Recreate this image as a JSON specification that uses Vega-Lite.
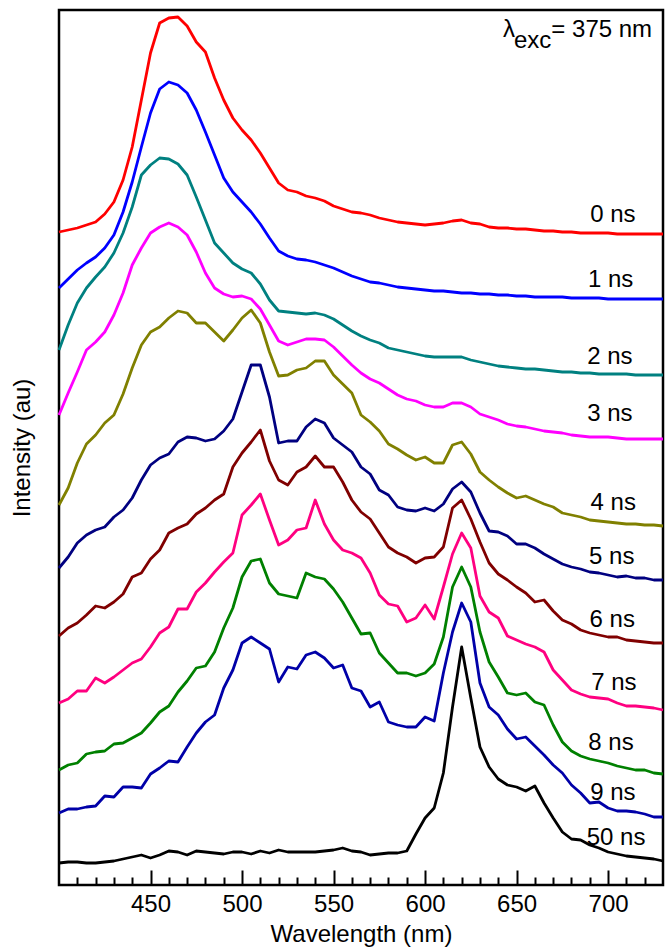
{
  "$schema": "https://vega.github.io/schema/vega-lite/v6.json",
  "width": 604,
  "height": 875,
  "autosize": {"type": "none"},
  "padding": {"left": 59, "top": 10, "right": 9, "bottom": 63},
  "background": "white",
  "config": {
    "font": "Liberation Sans",
    "view": {"stroke": "black", "strokeWidth": 2.5},
    "axis": {"grid": false, "labelColor": "black", "titleColor": "black", "tickColor": "black", "labelFont": "Liberation Sans", "titleFont": "Liberation Sans", "titleFontWeight": "normal"}
  },
  "datasets": {
    "spectra": [
      {"nm":400,"0 ns":653,"1 ns":597,"2 ns":535,"3 ns":470,"4 ns":380,"5 ns":317,"6 ns":249,"7 ns":182,"8 ns":115,"9 ns":72,"50 ns":22},
      {"nm":405,"0 ns":655,"1 ns":606,"2 ns":560,"3 ns":492,"4 ns":397,"5 ns":328,"6 ns":257,"7 ns":186,"8 ns":120,"9 ns":76,"50 ns":23},
      {"nm":410,"0 ns":657,"1 ns":615,"2 ns":582,"3 ns":513,"4 ns":422,"5 ns":342,"6 ns":262,"7 ns":194,"8 ns":122,"9 ns":76,"50 ns":23},
      {"nm":415,"0 ns":660,"1 ns":622,"2 ns":597,"3 ns":535,"4 ns":441,"5 ns":350,"6 ns":270,"7 ns":194,"8 ns":131,"9 ns":78,"50 ns":22},
      {"nm":420,"0 ns":663,"1 ns":628,"2 ns":608,"3 ns":543,"4 ns":450,"5 ns":355,"6 ns":279,"7 ns":207,"8 ns":133,"9 ns":79,"50 ns":22},
      {"nm":425,"0 ns":671,"1 ns":637,"2 ns":618,"3 ns":553,"4 ns":462,"5 ns":358,"6 ns":277,"7 ns":202,"8 ns":134,"9 ns":89,"50 ns":23},
      {"nm":430,"0 ns":683,"1 ns":650,"2 ns":632,"3 ns":570,"4 ns":470,"5 ns":368,"6 ns":283,"7 ns":208,"8 ns":141,"9 ns":88,"50 ns":24},
      {"nm":435,"0 ns":705,"1 ns":673,"2 ns":652,"3 ns":592,"4 ns":491,"5 ns":375,"6 ns":291,"7 ns":215,"8 ns":142,"9 ns":98,"50 ns":26},
      {"nm":440,"0 ns":738,"1 ns":703,"2 ns":678,"3 ns":620,"4 ns":517,"5 ns":387,"6 ns":308,"7 ns":222,"8 ns":147,"9 ns":98,"50 ns":28},
      {"nm":445,"0 ns":785,"1 ns":738,"2 ns":710,"3 ns":637,"4 ns":540,"5 ns":405,"6 ns":312,"7 ns":226,"8 ns":152,"9 ns":97,"50 ns":30},
      {"nm":450,"0 ns":832,"1 ns":772,"2 ns":720,"3 ns":652,"4 ns":553,"5 ns":420,"6 ns":326,"7 ns":238,"8 ns":162,"9 ns":111,"50 ns":27},
      {"nm":455,"0 ns":862,"1 ns":796,"2 ns":727,"3 ns":658,"4 ns":558,"5 ns":427,"6 ns":335,"7 ns":252,"8 ns":173,"9 ns":117,"50 ns":30},
      {"nm":460,"0 ns":867,"1 ns":803,"2 ns":726,"3 ns":662,"4 ns":567,"5 ns":431,"6 ns":352,"7 ns":258,"8 ns":179,"9 ns":124,"50 ns":34},
      {"nm":465,"0 ns":868,"1 ns":800,"2 ns":721,"3 ns":658,"4 ns":574,"5 ns":443,"6 ns":357,"7 ns":276,"8 ns":193,"9 ns":123,"50 ns":33},
      {"nm":470,"0 ns":859,"1 ns":792,"2 ns":710,"3 ns":650,"4 ns":572,"5 ns":448,"6 ns":361,"7 ns":276,"8 ns":204,"9 ns":138,"50 ns":30},
      {"nm":475,"0 ns":843,"1 ns":775,"2 ns":688,"3 ns":633,"4 ns":562,"5 ns":447,"6 ns":371,"7 ns":293,"8 ns":217,"9 ns":152,"50 ns":34},
      {"nm":480,"0 ns":833,"1 ns":753,"2 ns":665,"3 ns":612,"4 ns":562,"5 ns":444,"6 ns":377,"7 ns":302,"8 ns":219,"9 ns":163,"50 ns":33},
      {"nm":485,"0 ns":807,"1 ns":730,"2 ns":642,"3 ns":597,"4 ns":553,"5 ns":446,"6 ns":385,"7 ns":313,"8 ns":233,"9 ns":170,"50 ns":32},
      {"nm":490,"0 ns":785,"1 ns":707,"2 ns":632,"3 ns":591,"4 ns":544,"5 ns":454,"6 ns":391,"7 ns":323,"8 ns":257,"9 ns":197,"50 ns":31},
      {"nm":495,"0 ns":767,"1 ns":693,"2 ns":622,"3 ns":588,"4 ns":555,"5 ns":466,"6 ns":418,"7 ns":332,"8 ns":277,"9 ns":215,"50 ns":33},
      {"nm":500,"0 ns":755,"1 ns":683,"2 ns":616,"3 ns":589,"4 ns":567,"5 ns":493,"6 ns":432,"7 ns":370,"8 ns":308,"9 ns":242,"50 ns":33},
      {"nm":505,"0 ns":745,"1 ns":673,"2 ns":612,"3 ns":586,"4 ns":575,"5 ns":520,"6 ns":443,"7 ns":380,"8 ns":324,"9 ns":248,"50 ns":31},
      {"nm":510,"0 ns":732,"1 ns":661,"2 ns":601,"3 ns":576,"4 ns":562,"5 ns":520,"6 ns":455,"7 ns":391,"8 ns":326,"9 ns":242,"50 ns":34},
      {"nm":515,"0 ns":717,"1 ns":647,"2 ns":585,"3 ns":560,"4 ns":533,"5 ns":488,"6 ns":424,"7 ns":365,"8 ns":302,"9 ns":236,"50 ns":32},
      {"nm":520,"0 ns":702,"1 ns":634,"2 ns":574,"3 ns":544,"4 ns":509,"5 ns":442,"6 ns":405,"7 ns":340,"8 ns":291,"9 ns":203,"50 ns":35},
      {"nm":525,"0 ns":695,"1 ns":629,"2 ns":573,"3 ns":540,"4 ns":510,"5 ns":444,"6 ns":400,"7 ns":345,"8 ns":289,"9 ns":218,"50 ns":33},
      {"nm":530,"0 ns":693,"1 ns":626,"2 ns":572,"3 ns":543,"4 ns":515,"5 ns":444,"6 ns":413,"7 ns":355,"8 ns":287,"9 ns":216,"50 ns":33},
      {"nm":535,"0 ns":689,"1 ns":625,"2 ns":571,"3 ns":546,"4 ns":517,"5 ns":458,"6 ns":418,"7 ns":357,"8 ns":312,"9 ns":230,"50 ns":33},
      {"nm":540,"0 ns":687,"1 ns":623,"2 ns":572,"3 ns":546,"4 ns":524,"5 ns":466,"6 ns":429,"7 ns":385,"8 ns":308,"9 ns":233,"50 ns":33},
      {"nm":545,"0 ns":684,"1 ns":620,"2 ns":570,"3 ns":545,"4 ns":524,"5 ns":462,"6 ns":418,"7 ns":361,"8 ns":306,"9 ns":227,"50 ns":34},
      {"nm":550,"0 ns":679,"1 ns":617,"2 ns":566,"3 ns":538,"4 ns":510,"5 ns":447,"6 ns":418,"7 ns":345,"8 ns":296,"9 ns":217,"50 ns":35},
      {"nm":555,"0 ns":676,"1 ns":613,"2 ns":560,"3 ns":529,"4 ns":501,"5 ns":440,"6 ns":403,"7 ns":335,"8 ns":283,"9 ns":220,"50 ns":37},
      {"nm":560,"0 ns":673,"1 ns":609,"2 ns":554,"3 ns":520,"4 ns":492,"5 ns":433,"6 ns":385,"7 ns":332,"8 ns":267,"9 ns":197,"50 ns":34},
      {"nm":565,"0 ns":672,"1 ns":606,"2 ns":549,"3 ns":512,"4 ns":470,"5 ns":418,"6 ns":373,"7 ns":327,"8 ns":251,"9 ns":194,"50 ns":33},
      {"nm":570,"0 ns":670,"1 ns":603,"2 ns":545,"3 ns":506,"4 ns":463,"5 ns":411,"6 ns":366,"7 ns":312,"8 ns":252,"9 ns":178,"50 ns":30},
      {"nm":575,"0 ns":667,"1 ns":602,"2 ns":542,"3 ns":502,"4 ns":454,"5 ns":395,"6 ns":352,"7 ns":290,"8 ns":232,"9 ns":183,"50 ns":31},
      {"nm":580,"0 ns":665,"1 ns":600,"2 ns":537,"3 ns":496,"4 ns":441,"5 ns":390,"6 ns":338,"7 ns":281,"8 ns":222,"9 ns":163,"50 ns":32},
      {"nm":585,"0 ns":663,"1 ns":598,"2 ns":535,"3 ns":490,"4 ns":436,"5 ns":378,"6 ns":332,"7 ns":279,"8 ns":212,"9 ns":160,"50 ns":32},
      {"nm":590,"0 ns":662,"1 ns":597,"2 ns":533,"3 ns":486,"4 ns":430,"5 ns":375,"6 ns":328,"7 ns":263,"8 ns":212,"9 ns":158,"50 ns":34},
      {"nm":595,"0 ns":661,"1 ns":596,"2 ns":531,"3 ns":484,"4 ns":425,"5 ns":374,"6 ns":322,"7 ns":267,"8 ns":209,"9 ns":158,"50 ns":51},
      {"nm":600,"0 ns":660,"1 ns":595,"2 ns":529,"3 ns":480,"4 ns":428,"5 ns":377,"6 ns":327,"7 ns":280,"8 ns":212,"9 ns":168,"50 ns":67},
      {"nm":605,"0 ns":661,"1 ns":594,"2 ns":528,"3 ns":478,"4 ns":422,"5 ns":374,"6 ns":328,"7 ns":266,"8 ns":221,"9 ns":164,"50 ns":77},
      {"nm":610,"0 ns":662,"1 ns":594,"2 ns":528,"3 ns":478,"4 ns":422,"5 ns":381,"6 ns":338,"7 ns":298,"8 ns":248,"9 ns":212,"50 ns":112},
      {"nm":615,"0 ns":664,"1 ns":593,"2 ns":528,"3 ns":482,"4 ns":440,"5 ns":396,"6 ns":377,"7 ns":331,"8 ns":298,"9 ns":253,"50 ns":178},
      {"nm":620,"0 ns":665,"1 ns":592,"2 ns":528,"3 ns":482,"4 ns":443,"5 ns":403,"6 ns":385,"7 ns":352,"8 ns":318,"9 ns":282,"50 ns":238},
      {"nm":625,"0 ns":662,"1 ns":592,"2 ns":525,"3 ns":478,"4 ns":431,"5 ns":393,"6 ns":366,"7 ns":337,"8 ns":298,"9 ns":263,"50 ns":187},
      {"nm":630,"0 ns":661,"1 ns":591,"2 ns":523,"3 ns":471,"4 ns":413,"5 ns":372,"6 ns":343,"7 ns":289,"8 ns":253,"9 ns":202,"50 ns":138},
      {"nm":635,"0 ns":658,"1 ns":591,"2 ns":521,"3 ns":468,"4 ns":405,"5 ns":354,"6 ns":322,"7 ns":273,"8 ns":223,"9 ns":178,"50 ns":118},
      {"nm":640,"0 ns":657,"1 ns":590,"2 ns":519,"3 ns":465,"4 ns":398,"5 ns":353,"6 ns":311,"7 ns":267,"8 ns":208,"9 ns":170,"50 ns":106},
      {"nm":645,"0 ns":657,"1 ns":590,"2 ns":518,"3 ns":461,"4 ns":392,"5 ns":349,"6 ns":305,"7 ns":249,"8 ns":192,"9 ns":156,"50 ns":100},
      {"nm":650,"0 ns":656,"1 ns":589,"2 ns":517,"3 ns":459,"4 ns":387,"5 ns":341,"6 ns":298,"7 ns":245,"8 ns":190,"9 ns":146,"50 ns":98},
      {"nm":655,"0 ns":656,"1 ns":589,"2 ns":516,"3 ns":458,"4 ns":389,"5 ns":341,"6 ns":292,"7 ns":241,"8 ns":192,"9 ns":148,"50 ns":94},
      {"nm":660,"0 ns":655,"1 ns":588,"2 ns":516,"3 ns":456,"4 ns":385,"5 ns":337,"6 ns":283,"7 ns":238,"8 ns":183,"9 ns":139,"50 ns":99},
      {"nm":665,"0 ns":654,"1 ns":588,"2 ns":515,"3 ns":454,"4 ns":381,"5 ns":331,"6 ns":285,"7 ns":233,"8 ns":180,"9 ns":130,"50 ns":82},
      {"nm":670,"0 ns":654,"1 ns":588,"2 ns":514,"3 ns":453,"4 ns":378,"5 ns":326,"6 ns":274,"7 ns":215,"8 ns":160,"9 ns":120,"50 ns":67},
      {"nm":675,"0 ns":653,"1 ns":588,"2 ns":513,"3 ns":452,"4 ns":372,"5 ns":321,"6 ns":265,"7 ns":205,"8 ns":143,"9 ns":112,"50 ns":53},
      {"nm":680,"0 ns":653,"1 ns":587,"2 ns":513,"3 ns":450,"4 ns":370,"5 ns":318,"6 ns":261,"7 ns":195,"8 ns":134,"9 ns":100,"50 ns":46},
      {"nm":685,"0 ns":652,"1 ns":587,"2 ns":512,"3 ns":449,"4 ns":368,"5 ns":316,"6 ns":255,"7 ns":191,"8 ns":129,"9 ns":92,"50 ns":45},
      {"nm":690,"0 ns":652,"1 ns":587,"2 ns":512,"3 ns":448,"4 ns":365,"5 ns":313,"6 ns":252,"7 ns":188,"8 ns":126,"9 ns":82,"50 ns":40},
      {"nm":695,"0 ns":652,"1 ns":587,"2 ns":511,"3 ns":448,"4 ns":364,"5 ns":312,"6 ns":250,"7 ns":187,"8 ns":124,"9 ns":83,"50 ns":37},
      {"nm":700,"0 ns":652,"1 ns":586,"2 ns":511,"3 ns":448,"4 ns":363,"5 ns":310,"6 ns":248,"7 ns":186,"8 ns":122,"9 ns":77,"50 ns":33},
      {"nm":705,"0 ns":651,"1 ns":586,"2 ns":511,"3 ns":447,"4 ns":362,"5 ns":308,"6 ns":248,"7 ns":182,"8 ns":119,"9 ns":74,"50 ns":31},
      {"nm":710,"0 ns":651,"1 ns":586,"2 ns":511,"3 ns":446,"4 ns":361,"5 ns":309,"6 ns":245,"7 ns":179,"8 ns":117,"9 ns":74,"50 ns":29},
      {"nm":715,"0 ns":651,"1 ns":586,"2 ns":510,"3 ns":446,"4 ns":361,"5 ns":307,"6 ns":244,"7 ns":179,"8 ns":115,"9 ns":73,"50 ns":28},
      {"nm":720,"0 ns":651,"1 ns":586,"2 ns":510,"3 ns":446,"4 ns":360,"5 ns":307,"6 ns":243,"7 ns":178,"8 ns":115,"9 ns":71,"50 ns":27},
      {"nm":725,"0 ns":651,"1 ns":586,"2 ns":510,"3 ns":446,"4 ns":360,"5 ns":305,"6 ns":242,"7 ns":177,"8 ns":112,"9 ns":68,"50 ns":26},
      {"nm":730,"0 ns":651,"1 ns":586,"2 ns":510,"3 ns":446,"4 ns":359,"5 ns":305,"6 ns":242,"7 ns":175,"8 ns":111,"9 ns":68,"50 ns":24}
    ],
    "labels": [
      {"label":"0 ns","nm":690.2,"intensity":663},
      {"label":"1 ns","nm":689,"intensity":598},
      {"label":"2 ns","nm":688.6,"intensity":521},
      {"label":"3 ns","nm":688.6,"intensity":464},
      {"label":"4 ns","nm":690.4,"intensity":375},
      {"label":"5 ns","nm":689.6,"intensity":321},
      {"label":"6 ns","nm":689.9,"intensity":258},
      {"label":"7 ns","nm":690.8,"intensity":195},
      {"label":"8 ns","nm":689.2,"intensity":135},
      {"label":"9 ns","nm":690.2,"intensity":85},
      {"label":"50 ns","nm":688.3,"intensity":40}
    ],
    "note": [
      {"t":"λ","nm":642.6,"intensity":848},
      {"t":"exc","nm":648.6,"intensity":837},
      {"t":"= 375 nm","nm":669,"intensity":848}
    ]
  },
  "layer": [
    {
      "data": {"name": "spectra"},
      "transform": [{"fold": ["0 ns","1 ns","2 ns","3 ns","4 ns","5 ns","6 ns","7 ns","8 ns","9 ns","50 ns"], "as": ["delay","intensity"]}],
      "mark": {"type": "line", "strokeWidth": 2.8, "strokeJoin": "round"},
      "encoding": {
        "x": {"field": "nm", "type": "quantitative",
          "scale": {"domain": [400, 730], "nice": false, "zero": false},
          "axis": {"orient": "bottom", "values": [450,500,550,600,650,700], "tickSize": -15, "tickWidth": 2, "domain": false, "labelFontSize": 24, "labelPadding": 22, "title": "Wavelength (nm)", "titleFontSize": 24, "titlePadding": 6}},
        "y": {"field": "intensity", "type": "quantitative",
          "scale": {"domain": [0, 875], "nice": false, "zero": false},
          "axis": {"title": "Intensity (au)", "labels": false, "ticks": false, "domain": false, "titleFontSize": 24, "titlePadding": 25}},
        "color": {"field": "delay", "type": "nominal",
          "scale": {"domain": ["0 ns","1 ns","2 ns","3 ns","4 ns","5 ns","6 ns","7 ns","8 ns","9 ns","50 ns"],
                    "range": ["#FF0000","#0000FF","#008080","#FF00FF","#808000","#000080","#800000","#FF0080","#008000","#0000A8","#000000"]},
          "legend": null}
      }
    },
    {
      "data": {"name": "labels"},
      "mark": {"type": "text", "align": "left", "baseline": "alphabetic", "fontSize": 24, "color": "black", "font": "Liberation Sans"},
      "encoding": {
        "x": {"field": "nm", "type": "quantitative",
          "axis": {"orient": "bottom", "values": [410,420,430,440,460,470,480,490,510,520,530,540,560,570,580,590,610,620,630,640,660,670,680,690,710,720], "tickSize": -8, "tickWidth": 2, "labels": false, "domain": false, "title": null}},
        "y": {"field": "intensity", "type": "quantitative"},
        "text": {"field": "label"}
      }
    },
    {
      "data": {"name": "note"},
      "mark": {"type": "text", "align": "left", "baseline": "alphabetic", "fontSize": 24, "color": "black", "font": "Liberation Sans"},
      "encoding": {
        "x": {"field": "nm", "type": "quantitative", "axis": null},
        "y": {"field": "intensity", "type": "quantitative"},
        "text": {"field": "t"}
      }
    }
  ],
  "resolve": {"axis": {"x": "independent"}}
}
